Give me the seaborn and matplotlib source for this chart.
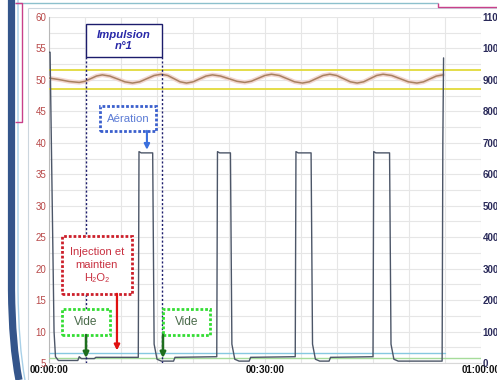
import numpy as np
import pandas as pd
import matplotlib
matplotlib.use("Agg")
import matplotlib.pyplot as plt
import seaborn as sns
from matplotlib.patches import Rectangle
from matplotlib.lines import Line2D
from matplotlib.path import Path
from matplotlib.patches import PathPatch

# ---------------- data (minutes, left-axis units) ----------------
dark_t = [0.0, 0.15, 0.7, 0.9, 1.3, 4.0, 4.2, 4.5, 6.3, 6.5, 12.4,
          12.5, 12.8, 14.4, 14.6, 15.0, 15.6, 17.3, 17.5, 23.3,
          23.4, 23.7, 25.2, 25.4, 25.8, 26.4, 27.8, 28.0, 34.2,
          34.3, 34.6, 36.4, 36.6, 37.0, 37.6, 38.9, 39.1, 45.0,
          45.1, 45.4, 47.3, 47.5, 47.9, 48.5, 54.6, 54.7, 54.8]
dark_v = [54.4, 54.4, 10.0, 6.0, 5.4, 5.4, 6.0, 5.7, 5.7, 5.9, 5.9,
          38.6, 38.4, 38.4, 8.0, 5.6, 5.3, 5.3, 5.9, 6.0,
          38.6, 38.4, 38.4, 8.0, 5.6, 5.3, 5.3, 5.9, 6.0,
          38.6, 38.4, 38.4, 8.0, 5.6, 5.3, 5.3, 5.9, 6.0,
          38.6, 38.4, 38.4, 8.0, 5.6, 5.3, 5.3, 40.0, 53.5]
cyan_t = [0.0, 55.0]
cyan_v = [6.6, 6.6]
green_t = [0.0, 60.0]
green_v = [5.8, 5.8]
osc_t = [0.0, 1.4, 2.8, 4.2, 5.0, 5.8, 6.6, 7.4, 8.45, 9.5, 10.55, 11.6,
         12.6, 13.6, 14.6, 15.6, 16.5, 17.35, 18.2, 19.1, 20.0, 20.9, 21.8, 22.7,
         23.8, 24.95, 26.1, 27.2, 28.1, 29.05, 30.0, 30.9, 32.0, 33.05, 34.1, 35.2,
         36.15, 37.1, 38.05, 39.0, 39.95, 40.9, 41.85, 42.8, 43.7, 44.6, 45.5, 46.4,
         47.6, 48.75, 49.9, 51.1, 52.0, 52.9, 53.8, 54.7]
osc_v = [50.3, 50.05, 49.75, 49.6, 49.78, 50.2, 50.62, 50.8, 50.61, 50.15, 49.69, 49.5,
         49.7, 50.2, 50.7, 50.9, 50.7, 50.2, 49.7, 49.5, 49.69, 50.15, 50.61, 50.8,
         50.62, 50.2, 49.78, 49.6, 49.79, 50.25, 50.71, 50.9, 50.7, 50.2, 49.7, 49.5,
         49.7, 50.2, 50.7, 50.9, 50.7, 50.2, 49.7, 49.5, 49.7, 50.2, 50.7, 50.9,
         50.7, 50.2, 49.7, 49.5, 49.69, 50.15, 50.61, 50.8]
limit_t = [0.0, 60.0]
upper_v = [51.6, 51.6]
lower_v = [48.6, 48.6]

left_ticks = list(range(5, 61, 5))
right_ticks = list(range(0, 1101, 100))
x_ticks = [0, 30, 60]
x_labels = ["00:00:00", "00:30:00", "01:00:00"]

# ---------------- figure ----------------
sns.set_theme(style="white")
plt.rcParams['font.family'] = ['Liberation Sans', 'DejaVu Sans']

W, H = 497, 380
fig = plt.figure(figsize=(W / 100, H / 100), dpi=100)
fig.patch.set_facecolor("white")

def fx(x):
    return x / W

def fy(y):
    return 1 - y / H

ax = fig.add_axes([fx(49), fy(363), (481 - 49) / W, (363 - 17) / H])
ax.set_xlim(0, 60)
ax.set_ylim(5, 60)

# grid
ax.set_xticks(x_ticks)
ax.set_xticks(np.arange(0, 61, 5), minor=True)
ax.set_yticks(left_ticks)
ax.set_yticks(np.arange(5, 60.1, 2.5), minor=True)
ax.grid(which="both", color="#e6e6e6", lw=0.8)
ax.set_axisbelow(True)
ax.tick_params(which="both", length=0)
ax.tick_params(axis="y", pad=2, labelsize=7, labelcolor="#b84848")
ax.tick_params(axis="x", pad=1.5, labelsize=7, labelcolor="#111111")
ax.set_xticklabels(x_labels, fontweight="bold")
for s in ["top", "right"]:
    ax.spines[s].set_visible(False)
ax.spines["left"].set_color("#b8b8b8")
ax.spines["left"].set_linewidth(0.8)
ax.spines["bottom"].set_color("#d8d8d8")
ax.spines["bottom"].set_linewidth(0.8)

# series
sns.lineplot(x=limit_t, y=upper_v, ax=ax, color="#e2da3a", lw=1.3, zorder=3)
sns.lineplot(x=limit_t, y=lower_v, ax=ax, color="#e2da3a", lw=1.3, zorder=3)
sns.lineplot(x=osc_t, y=osc_v, ax=ax, color="#f2d6d0", lw=3.2, zorder=3, sort=False)
sns.lineplot(x=osc_t, y=osc_v, ax=ax, color="#a88060", lw=1.1, zorder=4, sort=False)
sns.lineplot(x=green_t, y=green_v, ax=ax, color="#a6dc9a", lw=1.0, zorder=3)
sns.lineplot(x=cyan_t, y=cyan_v, ax=ax, color="#86c8e0", lw=1.0, zorder=3)
sns.lineplot(x=dark_t, y=dark_v, ax=ax, color="#4c5668", lw=1.0, zorder=5, sort=False)
ax.set_xlabel("")
ax.set_ylabel("")

# right axis
ax2 = ax.twinx()
ax2.set_ylim(0, 1100)
ax2.set_yticks(right_ticks)
ax2.set_yticklabels([str(v) for v in right_ticks], fontweight="bold")
ax2.tick_params(axis="y", length=0, pad=1, labelsize=7, labelcolor="#2a2a5a")
ax2.grid(False)
for s in ax2.spines.values():
    s.set_visible(False)

# ---------------- annotations ----------------
dot = (0, (1.0, 0.7))
ax.vlines([5.14, 15.7], 5, 53.65, colors="#1c1c6c", linestyles=(0, (1.5, 1.5)), lw=1.0, zorder=6)

def box(x0, x1, y0, y1, ec, lw, ls):
    r = Rectangle((x0, y0), x1 - x0, y1 - y0, facecolor="white", edgecolor=ec,
                  lw=lw, ls=ls, zorder=7)
    ax.add_patch(r)

box(5.14, 15.7, 53.65, 58.9, "#1c1c6c", 1.0, "-")
ax.text(10.42, 56.25, "Impulsion\nn°1", ha="center", va="center", color="#2828a8",
        fontsize=8.2, fontweight="bold", fontstyle="italic", linespacing=1.1, zorder=8)

box(7.08, 14.86, 41.9, 45.85, "#3a5fcd", 2.0, dot)
ax.text(10.97, 43.85, "Aération", ha="center", va="center", color="#5b7bd5",
        fontsize=8.2, zorder=8)

box(1.8, 11.53, 16.0, 25.2, "#cc1f2a", 2.0, dot)
ax.text(6.66, 20.6, "Injection et\nmaintien\nH₂O₂", ha="center", va="center",
        color="#c83040", fontsize=8, linespacing=1.35, zorder=8)

box(1.8, 8.47, 9.45, 13.6, "#33dd33", 2.0, dot)
ax.text(5.13, 11.5, "Vide", ha="center", va="center", color="#4a6a4a",
        fontsize=8.6, zorder=8)
box(15.83, 22.36, 9.45, 13.6, "#33dd33", 2.0, dot)
ax.text(19.1, 11.5, "Vide", ha="center", va="center", color="#4a6a4a",
        fontsize=8.6, zorder=8)

def arrow(x, y0, y1, color, lw):
    ax.annotate("", xy=(x, y1), xytext=(x, y0),
                arrowprops=dict(arrowstyle="-|>", color=color, lw=lw,
                                mutation_scale=8, shrinkA=0, shrinkB=0), zorder=9)

arrow(13.6, 41.9, 38.9, "#3a6fdd", 1.5)
arrow(9.44, 16.0, 7.0, "#e01010", 1.6)
arrow(5.14, 9.45, 5.8, "#1e6e1e", 1.8)
arrow(15.83, 9.45, 5.8, "#1e6e1e", 1.8)

# ---------------- slide decorations ----------------
def fline(xs, ys, color, lw):
    fig.add_artist(Line2D([fx(v) for v in xs], [fy(v) for v in ys], color=color,
                          lw=lw, transform=fig.transFigure, solid_capstyle="butt"))

fline([28, 28], [8, 380], "#ccd6de", 0.8)
fline([28, 497], [8, 8], "#ccd6de", 0.8)
fline([15, 438], [3, 3], "#8cc0cc", 1.0)
fline([438, 438, 497], [3, 7, 7], "#c8408a", 1.0)
fline([15, 22, 22, 15], [3, 3, 122, 122], "#c8408a", 1.0)
verts = [(fx(11.5), fy(0)), (fx(11.5), fy(290)), (fx(12), fy(345)), (fx(19), fy(380))]
codes = [Path.MOVETO, Path.LINETO, Path.CURVE3, Path.CURVE3]
fig.add_artist(PathPatch(Path(verts, codes), facecolor="none", edgecolor="#34558b",
                         lw=5.2, transform=fig.transFigure))
verts2 = [(fx(18), fy(0)), (fx(18), fy(290)), (fx(18.5), fy(345)), (fx(25), fy(380))]
fig.add_artist(PathPatch(Path(verts2, codes), facecolor="none", edgecolor="#a8d0e8",
                         lw=1.0, transform=fig.transFigure))

fig.savefig("out.png", dpi=100, facecolor="white")
